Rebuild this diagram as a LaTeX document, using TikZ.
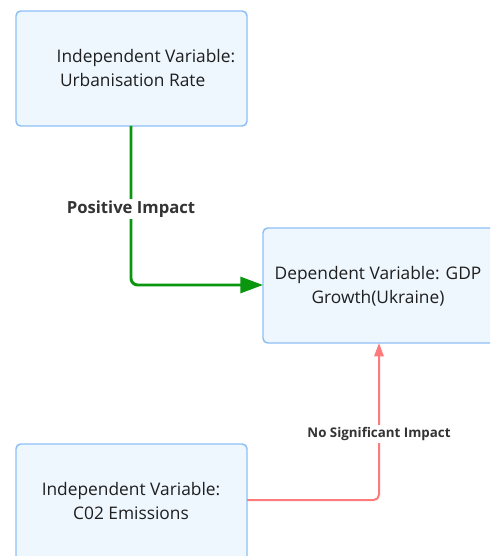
\documentclass[tikz,border=0pt]{standalone}
\usepackage{fontspec}
\setmainfont{Open Sans}
\usetikzlibrary{arrows.meta}
\definecolor{boxfill}{HTML}{EEF6FE}
\definecolor{boxline}{HTML}{8EBFF7}
\definecolor{posgreen}{HTML}{0A960F}
\definecolor{nored}{HTML}{FF7B7B}
\definecolor{lbl}{HTML}{333333}
\tikzset{
  varbox/.style={draw=boxline, fill=boxfill, line width=1.1pt, rounded corners=3.5pt},
  boxtext/.style={font=\fontsize{13}{18}\selectfont, text=black!88, align=center},
  edgelabel/.style={fill=white, text=lbl, inner sep=1.5pt},
  posedge/.style={draw=posgreen, line width=2.2pt, rounded corners=5pt, -{Triangle[length=17pt,width=12pt]}},
  noedge/.style={draw=nored, line width=1.5pt, rounded corners=4pt, -{Triangle[length=10pt,width=7pt]}}
}
\begin{document}
\begin{tikzpicture}[x=0.75pt,y=-0.75pt]
\useasboundingbox (0,0) rectangle (490,556);
\clip (0,0) rectangle (490,556);
\fill[white] (0,0) rectangle (490,556);
% boxes
\draw[varbox] (16,11) rectangle (247,126);
\coordinate (Abot) at (131,126);
\node[boxtext, align=left, anchor=west] (A) at (52,68) {Independent Variable:\\\hspace*{2.5pt}Urbanisation Rate};
\draw[varbox] (263,228) rectangle (520,343);
\coordinate (Bleft) at (263,285);
\coordinate (Bbot) at (379,343);
\node[boxtext] (B) at (378,286) {Dependent Variable: GDP\\Growth(Ukraine)};
\draw[varbox] (16,444) rectangle (247,600);
\coordinate (Cright) at (247,500);
\node[boxtext] (C) at (131,501) {Independent Variable:\\C02 Emissions};
% connectors
\coordinate (g1) at (131,285);
\coordinate (r1) at (379,500);
\draw[posedge] (Abot) -- (g1) -- (Bleft);
\draw[noedge] (Cright) -- (r1) -- (Bbot);
\node[edgelabel, font=\bfseries\fontsize{12.5}{14}\selectfont] (pl) at (131,209) {Positive Impact};
\node[edgelabel, font=\bfseries\fontsize{10}{12}\selectfont] (nl) at (379,434) {No Significant Impact};
\end{tikzpicture}
\end{document}
